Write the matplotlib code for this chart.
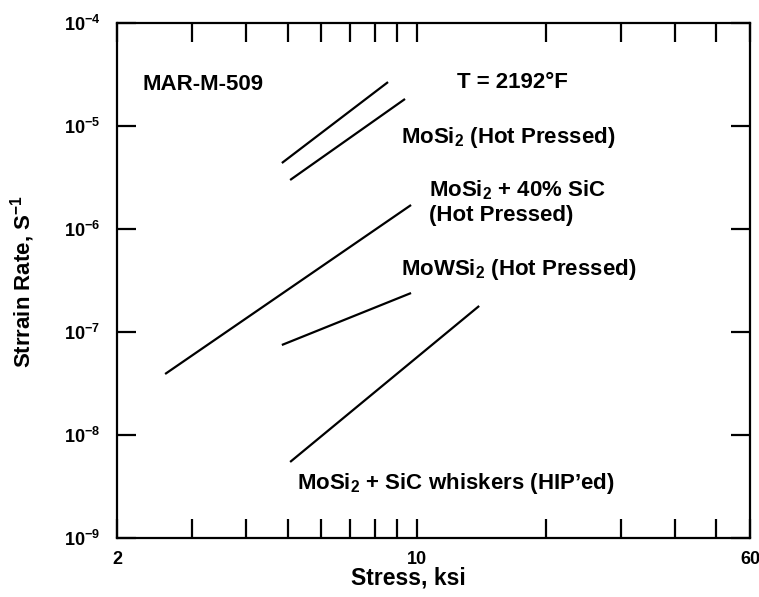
import matplotlib
matplotlib.use("Agg")
import matplotlib.pyplot as plt
from matplotlib.ticker import FixedLocator, NullFormatter

plt.rcParams['font.family'] = ['Liberation Sans', 'DejaVu Sans']
plt.rcParams['font.weight'] = 'bold'
plt.rcParams['mathtext.fontset'] = 'custom'
plt.rcParams['mathtext.rm'] = 'Liberation Sans:bold'
plt.rcParams['mathtext.it'] = 'Liberation Sans:bold'
plt.rcParams['mathtext.bf'] = 'Liberation Sans:bold'
plt.rcParams['mathtext.default'] = 'rm'

# creep lines: (stress ksi, strain rate 1/s) end points
mosi2_a_x = [4.85, 8.58]
mosi2_a_y = [4.37e-6, 2.67e-5]
mosi2_b_x = [5.07, 9.40]
mosi2_b_y = [2.99e-6, 1.83e-5]
mosi2_sic_x = [2.59, 9.71]
mosi2_sic_y = [3.91e-8, 1.71e-6]
mowsi2_x = [4.85, 9.71]
mowsi2_y = [7.48e-8, 2.39e-7]
whisker_x = [5.07, 14.0]
whisker_y = [5.47e-9, 1.79e-7]

xticks = [2, 10, 60]
xminor = [3, 4, 5, 6, 7, 8, 9, 20, 30, 40, 50]
yticks = [1e-9, 1e-8, 1e-7, 1e-6, 1e-5, 1e-4]
ylabels = ['$10^{-9}$', '$10^{-8}$', '$10^{-7}$', '$10^{-6}$', '$10^{-5}$', '$10^{-4}$']

fig = plt.figure(figsize=(7.59, 5.97), dpi=100)
ax = fig.add_axes([117/759, 59/597, 633/759, 515/597])
ax.set_xscale('log')
ax.set_yscale('log')

for xs, ys in [(mosi2_a_x, mosi2_a_y), (mosi2_b_x, mosi2_b_y),
               (mosi2_sic_x, mosi2_sic_y), (mowsi2_x, mowsi2_y),
               (whisker_x, whisker_y)]:
    ax.plot(xs, ys, color='black', lw=1.6, solid_capstyle='butt')

ax.set_xlim(2, 60)
ax.set_ylim(1e-9, 1e-4)
ax.xaxis.set_major_locator(FixedLocator(xticks))
ax.xaxis.set_minor_locator(FixedLocator(xminor))
ax.xaxis.set_minor_formatter(NullFormatter())
ax.set_xticklabels([str(v) for v in xticks])
ax.yaxis.set_major_locator(FixedLocator(yticks))
ax.yaxis.set_minor_locator(FixedLocator([]))
ax.set_yticklabels(ylabels)

ax.tick_params(which='both', direction='in', top=True, right=True,
               length=14, width=1.6, labelsize=13)
ax.tick_params(axis='y', pad=12)
ax.tick_params(axis='x', pad=9)
for s in ax.spines.values():
    s.set_linewidth(1.6)

ax.set_xlabel('Stress, ksi', fontsize=16.5, fontweight='bold')
ax.xaxis.set_label_coords((408 - 117) / 633, -(567 - 538) / 515)
ax.set_ylabel('Strrain Rate, S$^{-1}$', fontsize=16, fontweight='bold')
ax.yaxis.set_label_coords((37 - 117) / 633, (538 - 282) / 515)

tk = dict(fontsize=16, fontweight='bold', transform=ax.transAxes, va='center', ha='left')
def fx(px):
    return (px - 117) / 633
def fy(py):
    return (538 - py) / 515

ax.text(fx(143), fy(85), 'MAR-M-509', **tk)
ax.text(fx(457), fy(83), 'T = 2192°F', **tk)
ax.text(fx(401), fy(137), 'MoSi$_2$ (Hot Pressed)', **tk)
ax.text(fx(429), fy(190), 'MoSi$_2$ + 40% SiC', **tk)
ax.text(fx(429), fy(215), '(Hot Pressed)', **tk)
ax.text(fx(401), fy(270), 'MoWSi$_2$ (Hot Pressed)', **tk)
ax.text(fx(297), fy(484), 'MoSi$_2$ + SiC whiskers (HIP’ed)', **tk)

fig.savefig('out.png', dpi=100)
